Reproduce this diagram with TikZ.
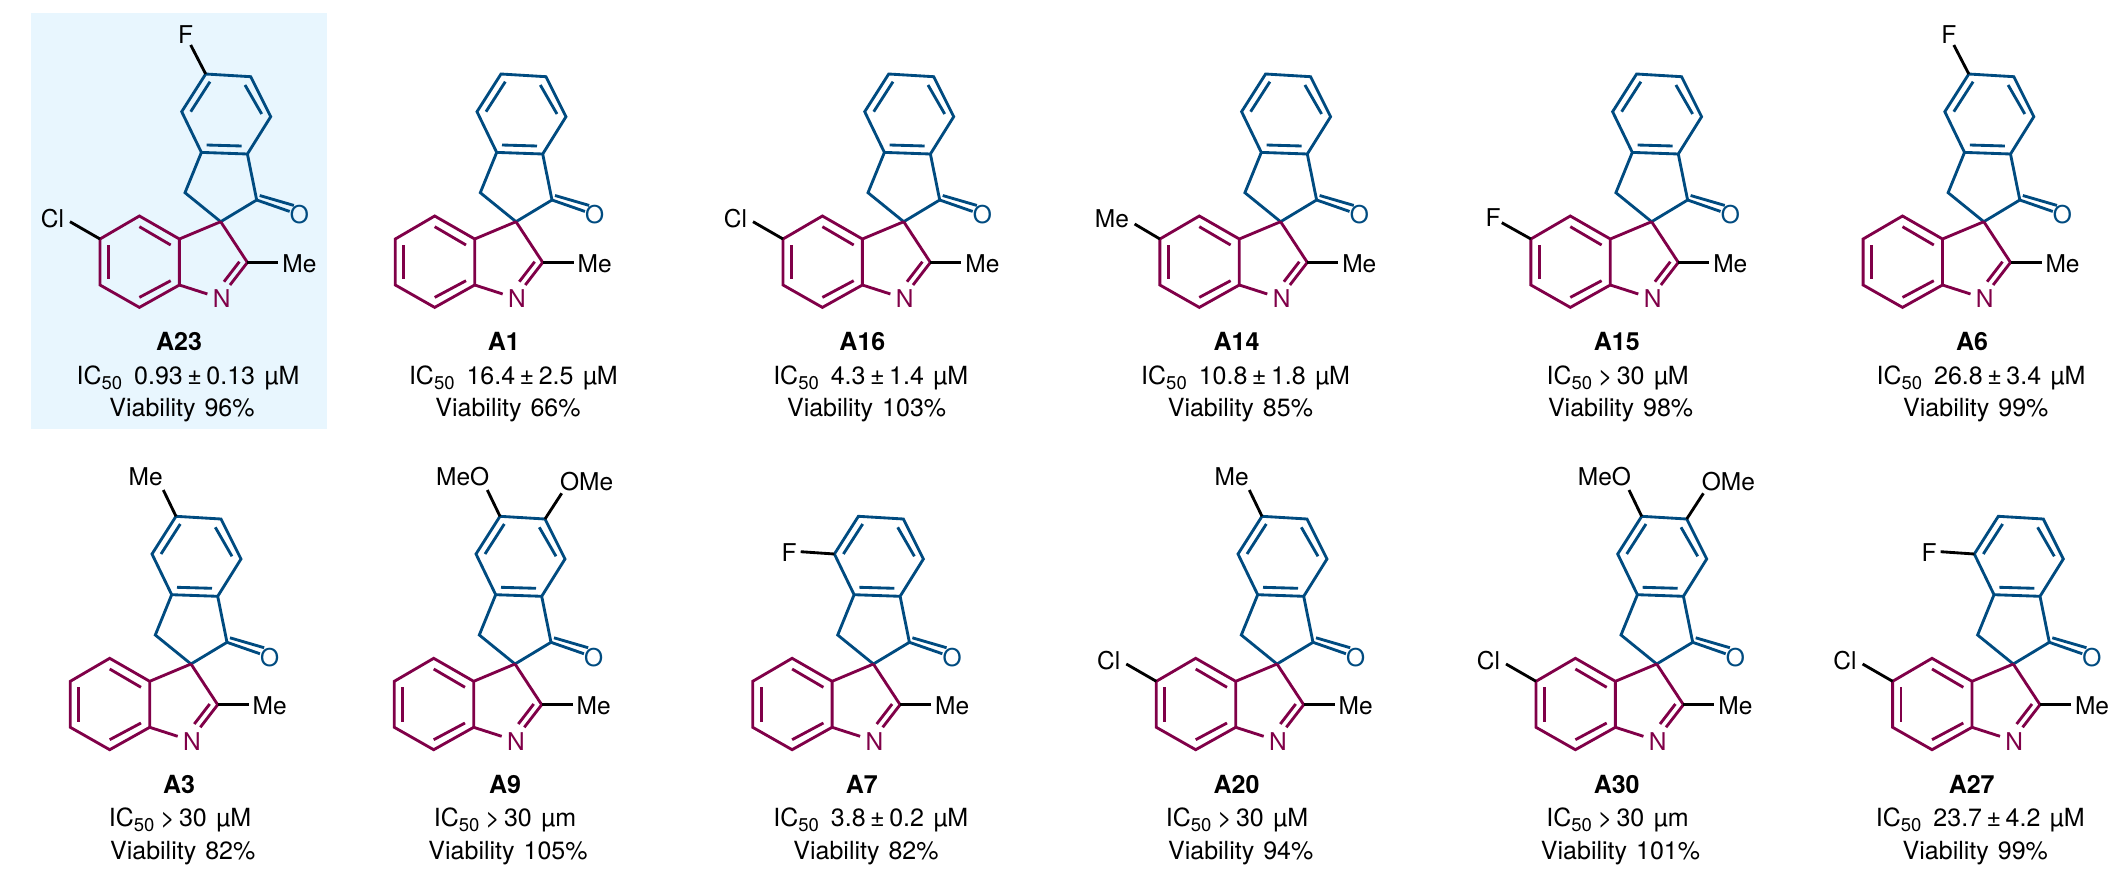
\documentclass[tikz,border=0pt]{standalone}
\usepackage{fontspec}
\setmainfont{TeX Gyre Heros}
\usetikzlibrary{calc}
\definecolor{ringblue}{RGB}{0, 75, 128}
\definecolor{ringpurple}{RGB}{128, 0, 72}
\definecolor{boxblue}{RGB}{232, 246, 254}
\tikzset{
	bond/.style={line width=1.0mm, line join=miter},
	bluebond/.style={bond, ringblue},
	purplebond/.style={bond, ringpurple},
	sidebond/.style={bond, black},
	atom/.style={inner sep=0pt, font=\fontsize{24.5}{24.5}\selectfont},
	caption/.style={inner sep=0pt, anchor=base, font=\fontsize{25}{25}\selectfont},
}
% sub-50 for the IC line
\newcommand{\icfifty}{IC\raisebox{-5pt}{\fontsize{18.5}{18.5}\selectfont 50}}
\newcommand{\icvalue}[3]{\kern12pt #1\kern4.5pt±\kern4.5pt #2\kern9.5pt #3}
\newcommand{\icabove}[1]{\kern6pt>\kern4pt 30\kern9.5pt #1}
% spiro skeleton; #1 name, #2 x, #3 y, #4 substituents
\newcommand{\compound}[4]{
	\begin{scope}[shift={(#2,#3)}, name prefix=#1-]
		\coordinate (S) at (0,0);
		\coordinate (C1) at (36,-21.7);
		\coordinate (C7a) at (26.7,-67.7);
		\coordinate (C3a) at (-19.3,-69.3);
		\coordinate (CH) at (-35.7,-29);
		\coordinate (C7) at (50,-105);
		\coordinate (C6) at (30,-145);
		\coordinate (C5) at (-15,-147.7);
		\coordinate (C4) at (-39,-110);
		\coordinate (Ia) at (-41.3,17.3);
		\coordinate (Ib) at (-41.3,63.3);
		\coordinate (Ic) at (-81.3,85.7);
		\coordinate (Id) at (-120.7,63.3);
		\coordinate (Ie) at (-120.7,17.3);
		\coordinate (If) at (-81.3,-5.7);
		\coordinate (C2) at (26.7,40.7);
		\node[atom, ringblue] (O) at (78.7,-6.7) {O};
		\node[atom, ringpurple] (N) at (1,77.3) {N};
		\node[atom] (Me) at (78.7,41.7) {Me};
		\draw[bluebond] (S) -- (C1) -- (C7a) -- (C7) -- (C6) -- (C5) -- (C4) -- (C3a) -- (CH) -- (S);
		\draw[bluebond] (C3a) -- (C7a);
		\draw[bluebond] (-14,-76.7) -- (21,-75.7);
		\draw[bluebond] (24.3,-136.7) -- (41,-107.7);
		\draw[bluebond] (-10.7,-140) -- (-30,-110);
		\draw[bluebond] (C1) -- (O.160);
		\draw[bluebond] ($(C1)+(3,-4.5)$) -- (O.120);
		\draw[purplebond] (S) -- (Ia) -- (If) -- (Ie) -- (Id) -- (Ic) -- (Ib) -- (Ia);
		\draw[purplebond] (S) -- (C2) -- (9.3,63.3);
		\draw[purplebond] (18.7,40) -- (3.3,60);
		\draw[purplebond] (Ib) -- (-13.3,72.3);
		\draw[purplebond] (-50,23.3) -- (-81.3,5);
		\draw[purplebond] (-112.3,23.3) -- (-112.3,57.7);
		\draw[purplebond] (-81.3,75.7) -- (-50,59);
		\draw[sidebond] (C2) -- (57.7,40.7);
		#4
	\end{scope}
}
% substituents
\newcommand{\indoleCl}{
	\node[atom] (Cl) at (-168.3,-3.3) {Cl};
	\draw[sidebond] (Ie) -- (-150.7,0);
}
\newcommand{\indoleF}{
	\node[atom] (Fi) at (-158.6,-4) {F};
	\draw[sidebond] (Ie) -- (-149.8,1);
}
\newcommand{\indoleMe}{
	\node[atom] (Mei) at (-168.6,-3.3) {Me};
	\draw[sidebond] (Ie) -- (-146,2.3);
}
\newcommand{\ringF}{
	\node[atom] (Fr) at (-35,-186.7) {F};
	\draw[sidebond] (C5) -- (-30,-176.7);
}
\newcommand{\ringMe}{
	\node[atom] (Mer) at (-45.3,-187.3) {Me};
	\draw[sidebond] (C5) -- (-27.7,-174);
}
\newcommand{\ringFb}{
	\node[atom] (Fb) at (-84.3,-111.7) {F};
	\draw[sidebond] (C4) -- (-72.7,-112.3);
}
\newcommand{\ringOMe}{
	\node[atom] (MeO) at (-52.3,-187.3) {MeO};
	\node[atom] (OMe) at (71.7,-182.3) {OMe};
	\draw[sidebond] (C5) -- (-27.7,-174);
	\draw[sidebond] (C6) -- (46.7,-170.7);
}
% #1 name, #2 y of spiro, #3 #4 #5 centres, #6 IC value, #7 viability
\newcommand{\results}[7]{
	\node[caption, font=\fontsize{25}{25}\selectfont\bfseries] (#1-name) at (#3,#2+129) {#1};
	\node[caption] (#1-ic) at (#4,#2+162.3) {\icfifty#6};
	\node[caption] (#1-via) at (#5,#2+195) {Viability\kern9pt #7\%};
}
\begin{document}
\begin{tikzpicture}[x=1pt, y=-1pt]
	\useasboundingbox (0,0) rectangle (2110,886);
	\fill[boxblue] (31,13.3) rectangle (327,429);

	\compound{A23}{220.7}{221.7}{\indoleCl\ringF}
	\compound{A1}{516}{221.7}{}
	\compound{A16}{903.7}{221.7}{\indoleCl}
	\compound{A14}{1280.6}{221.7}{\indoleMe}
	\compound{A15}{1651.6}{221.7}{\indoleF}
	\compound{A6}{1983.8}{221.7}{\ringF}
	\compound{A3}{191}{664}{\ringMe}
	\compound{A9}{515}{664}{\ringOMe}
	\compound{A7}{873.4}{664}{\ringFb}
	\compound{A20}{1277}{664}{\indoleCl\ringMe}
	\compound{A30}{1656.7}{664}{\indoleCl\ringOMe}
	\compound{A27}{2013.3}{664}{\indoleCl\ringFb}

	\results{A23}{221.7}{179}{188}{182}{\icvalue{0.93}{0.13}{µM}}{96}
	\results{A1}{221.7}{503.8}{513.4}{508}{\icvalue{16.4}{2.5}{µM}}{66}
	\results{A16}{221.7}{862.4}{870.7}{866.6}{\icvalue{4.3}{1.4}{µM}}{103}
	\results{A14}{221.7}{1236.6}{1245.6}{1240.4}{\icvalue{10.8}{1.8}{µM}}{85}
	\results{A15}{221.7}{1616.8}{1617.7}{1620.6}{\icabove{µM}}{98}
	\results{A6}{221.7}{1972}{1981}{1975.8}{\icvalue{26.8}{3.4}{µM}}{99}
	\results{A3}{664}{179}{180}{182.7}{\icabove{µM}}{82}
	\results{A9}{664}{505}{505}{508}{\icabove{µm}}{105}
	\results{A7}{664}{861.9}{870.8}{866}{\icvalue{3.8}{0.2}{µM}}{82}
	\results{A20}{664}{1236.5}{1237}{1240.7}{\icabove{µM}}{94}
	\results{A30}{664}{1616.7}{1617.5}{1620.5}{\icabove{µm}}{101}
	\results{A27}{664}{1971.7}{1980.3}{1975.3}{\icvalue{23.7}{4.2}{µM}}{99}
\end{tikzpicture}
\end{document}
